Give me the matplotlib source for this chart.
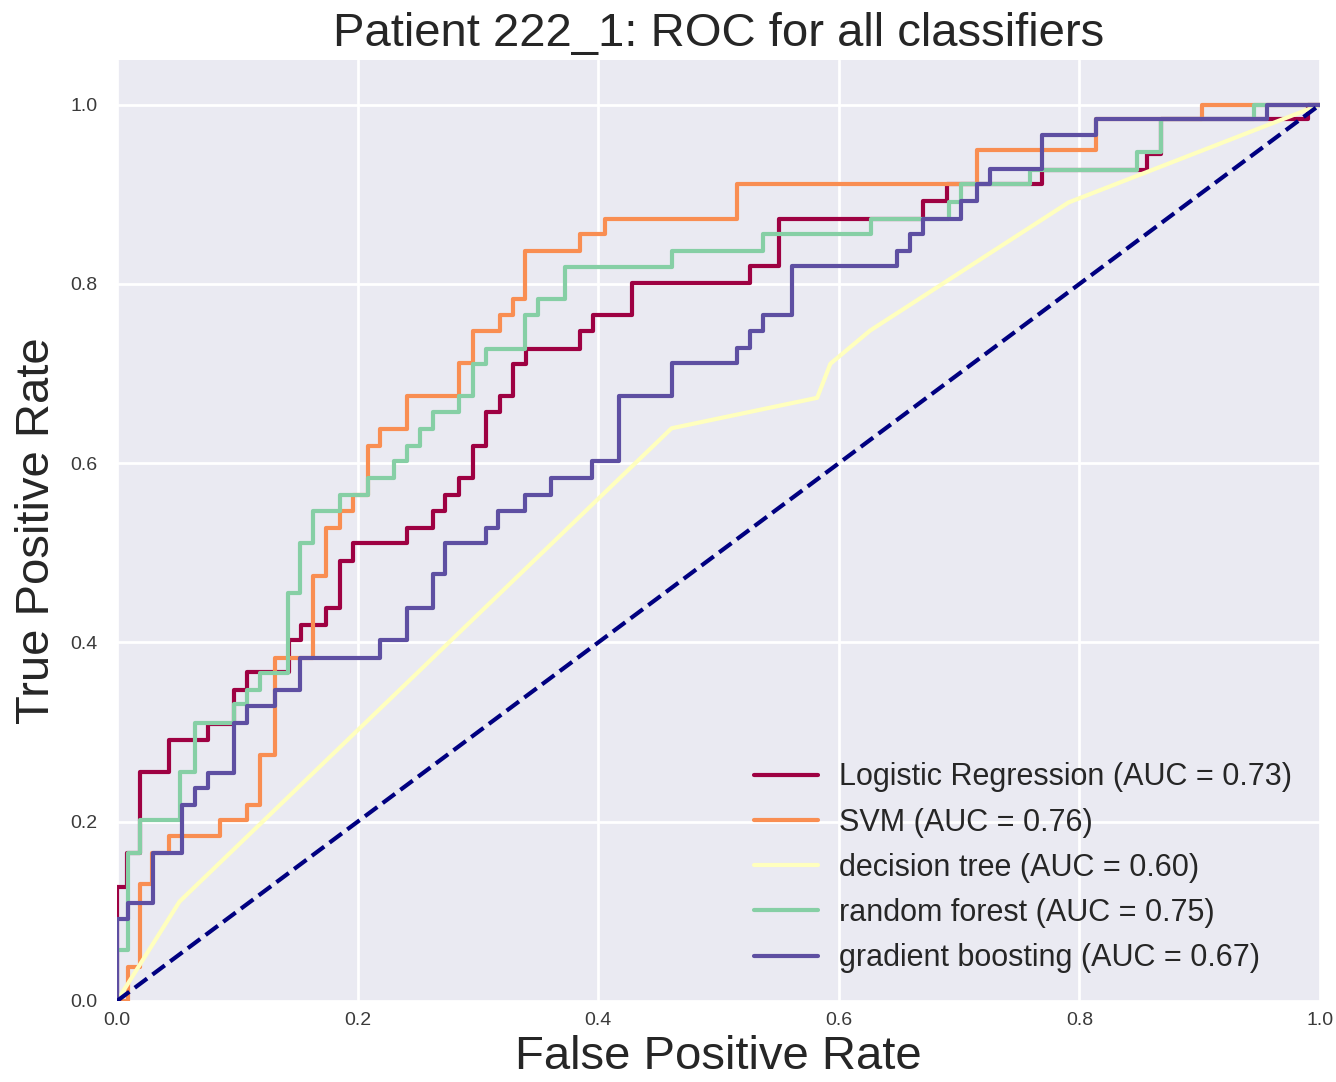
import numpy as np
import matplotlib
matplotlib.use("Agg")
import matplotlib.pyplot as plt

# ROC curve vertices (false positive rate, true positive rate) per classifier
fpr_lr = [0, 0, 0.008, 0.008, 0.019, 0.019, 0.043, 0.043, 0.076, 0.076, 0.097, 0.097,
          0.108, 0.108, 0.143, 0.143, 0.153, 0.153, 0.174, 0.174, 0.185, 0.185, 0.196,
          0.196, 0.241, 0.241, 0.263, 0.263, 0.273, 0.273, 0.284, 0.284, 0.296, 0.296,
          0.307, 0.307, 0.318, 0.318, 0.329, 0.329, 0.340, 0.340, 0.385, 0.385, 0.396,
          0.396, 0.428, 0.428, 0.526, 0.526, 0.550, 0.550, 0.670, 0.670, 0.690, 0.690,
          0.769, 0.769, 0.856, 0.856, 0.868, 0.868, 0.990, 0.990, 1.0]
tpr_lr = [0, 0.127, 0.127, 0.165, 0.165, 0.255, 0.255, 0.291, 0.291, 0.309, 0.309, 0.347,
          0.347, 0.367, 0.367, 0.403, 0.403, 0.420, 0.420, 0.439, 0.439, 0.491, 0.491,
          0.511, 0.511, 0.528, 0.528, 0.547, 0.547, 0.564, 0.564, 0.584, 0.584, 0.619,
          0.619, 0.657, 0.657, 0.675, 0.675, 0.711, 0.711, 0.727, 0.727, 0.748, 0.748,
          0.765, 0.765, 0.801, 0.801, 0.820, 0.820, 0.873, 0.873, 0.893, 0.893, 0.912,
          0.912, 0.927, 0.927, 0.945, 0.945, 0.984, 0.984, 1.0, 1.0]

fpr_svm = [0, 0.009, 0.009, 0.019, 0.019, 0.029, 0.029, 0.043, 0.043, 0.086, 0.086, 0.108,
           0.108, 0.119, 0.119, 0.131, 0.131, 0.163, 0.163, 0.174, 0.174, 0.185, 0.185,
           0.196, 0.196, 0.209, 0.209, 0.219, 0.219, 0.241, 0.241, 0.284, 0.284, 0.296,
           0.296, 0.318, 0.318, 0.329, 0.329, 0.339, 0.339, 0.385, 0.385, 0.406, 0.406,
           0.515, 0.515, 0.715, 0.715, 0.814, 0.814, 0.902, 0.902, 1.0]
tpr_svm = [0, 0, 0.038, 0.038, 0.130, 0.130, 0.165, 0.165, 0.184, 0.184, 0.202, 0.202,
           0.219, 0.219, 0.275, 0.275, 0.383, 0.383, 0.474, 0.474, 0.528, 0.528, 0.547,
           0.547, 0.564, 0.564, 0.619, 0.619, 0.638, 0.638, 0.675, 0.675, 0.712, 0.712,
           0.748, 0.748, 0.765, 0.765, 0.783, 0.783, 0.837, 0.837, 0.856, 0.856, 0.873,
           0.873, 0.912, 0.912, 0.949, 0.949, 0.984, 0.984, 1.0, 1.0]

fpr_dt = [0, 0.052, 0.461, 0.582, 0.593, 0.626, 0.791, 1.0]
tpr_dt = [0, 0.111, 0.639, 0.673, 0.711, 0.748, 0.891, 1.0]

fpr_rf = [0, 0, 0.009, 0.009, 0.019, 0.019, 0.052, 0.052, 0.065, 0.065, 0.097, 0.097,
          0.108, 0.108, 0.119, 0.119, 0.142, 0.142, 0.152, 0.152, 0.163, 0.163, 0.185,
          0.185, 0.209, 0.209, 0.230, 0.230, 0.241, 0.241, 0.252, 0.252, 0.263, 0.263,
          0.284, 0.284, 0.296, 0.296, 0.307, 0.307, 0.339, 0.339, 0.350, 0.350, 0.372,
          0.372, 0.461, 0.461, 0.537, 0.537, 0.627, 0.627, 0.692, 0.692, 0.702, 0.702,
          0.759, 0.759, 0.848, 0.848, 0.868, 0.868, 0.945, 0.945, 1.0]
tpr_rf = [0, 0.057, 0.057, 0.165, 0.165, 0.202, 0.202, 0.255, 0.255, 0.310, 0.310, 0.331,
          0.331, 0.347, 0.347, 0.366, 0.366, 0.455, 0.455, 0.511, 0.511, 0.547, 0.547,
          0.564, 0.564, 0.584, 0.584, 0.603, 0.603, 0.619, 0.619, 0.638, 0.638, 0.657,
          0.657, 0.675, 0.675, 0.711, 0.711, 0.727, 0.727, 0.765, 0.765, 0.783, 0.783,
          0.819, 0.819, 0.837, 0.837, 0.856, 0.856, 0.873, 0.873, 0.891, 0.891, 0.912,
          0.912, 0.927, 0.927, 0.947, 0.947, 0.984, 0.984, 1.0, 1.0]

fpr_gb = [0, 0, 0.009, 0.009, 0.030, 0.030, 0.054, 0.054, 0.065, 0.065, 0.076, 0.076,
          0.097, 0.097, 0.108, 0.108, 0.131, 0.131, 0.152, 0.152, 0.219, 0.219, 0.241,
          0.241, 0.263, 0.263, 0.273, 0.273, 0.307, 0.307, 0.317, 0.317, 0.339, 0.339,
          0.361, 0.361, 0.395, 0.395, 0.417, 0.417, 0.461, 0.461, 0.515, 0.515, 0.526,
          0.526, 0.537, 0.537, 0.561, 0.561, 0.648, 0.648, 0.659, 0.659, 0.670, 0.670,
          0.702, 0.702, 0.715, 0.715, 0.726, 0.726, 0.769, 0.769, 0.814, 0.814, 0.956,
          0.956, 1.0]
tpr_gb = [0, 0.092, 0.092, 0.109, 0.109, 0.165, 0.165, 0.219, 0.219, 0.238, 0.238, 0.254,
          0.254, 0.310, 0.310, 0.329, 0.329, 0.347, 0.347, 0.383, 0.383, 0.403, 0.403,
          0.439, 0.439, 0.476, 0.476, 0.511, 0.511, 0.528, 0.528, 0.547, 0.547, 0.564,
          0.564, 0.584, 0.584, 0.603, 0.603, 0.675, 0.675, 0.712, 0.712, 0.729, 0.729,
          0.748, 0.748, 0.765, 0.765, 0.820, 0.820, 0.837, 0.837, 0.856, 0.856, 0.873,
          0.873, 0.893, 0.893, 0.912, 0.912, 0.928, 0.928, 0.966, 0.966, 0.984, 0.984,
          1.0, 1.0]

classifier_names = ["Logistic Regression", "SVM", "decision tree",
                    "random forest", "gradient boosting"]
auc_values = [0.73, 0.76, 0.60, 0.75, 0.67]
tick_values = [0.0, 0.2, 0.4, 0.6, 0.8, 1.0]

plt.style.use("seaborn-v0_8")
plt.rcParams["font.family"] = ["Liberation Sans", "DejaVu Sans"]

fig = plt.figure(figsize=(6.68, 5.41), dpi=200)
ax = fig.add_axes([0.0876, 0.0749, 0.9004, 0.8697])

curves = [(fpr_lr, tpr_lr), (fpr_svm, tpr_svm), (fpr_dt, tpr_dt),
          (fpr_rf, tpr_rf), (fpr_gb, tpr_gb)]
colors = plt.cm.Spectral(np.linspace(0, 1, len(curves)))

for (fpr, tpr), name, auc, color in zip(curves, classifier_names, auc_values, colors):
    ax.plot(fpr, tpr, color=color, lw=1.5, label=f"{name} (AUC = {auc:.2f})")

ax.plot([0, 1], [0, 1], color="navy", lw=1.5, linestyle="--")

ax.set_xlim(0.0, 1.0)
ax.set_ylim(0.0, 1.05)
ax.set_xticks(tick_values)
ax.set_yticks(tick_values)
ax.tick_params(axis="both", labelsize=7, colors="#3a3a3a")
ax.tick_params(axis="x", pad=4)
ax.tick_params(axis="y", pad=7)

ax.set_xlabel("False Positive Rate", fontsize=17, color="#262626", labelpad=2)
ax.set_ylabel("True Positive Rate", fontsize=17, color="#262626", labelpad=4)
ax.set_title("Patient 222_1: ROC for all classifiers", fontsize=17,
             color="#262626", pad=5)

ax.legend(loc="lower right", fontsize=11, frameon=False, labelspacing=0.5,
          handlelength=2.1, handletextpad=0.7)

fig.savefig("out.png", dpi=200)
